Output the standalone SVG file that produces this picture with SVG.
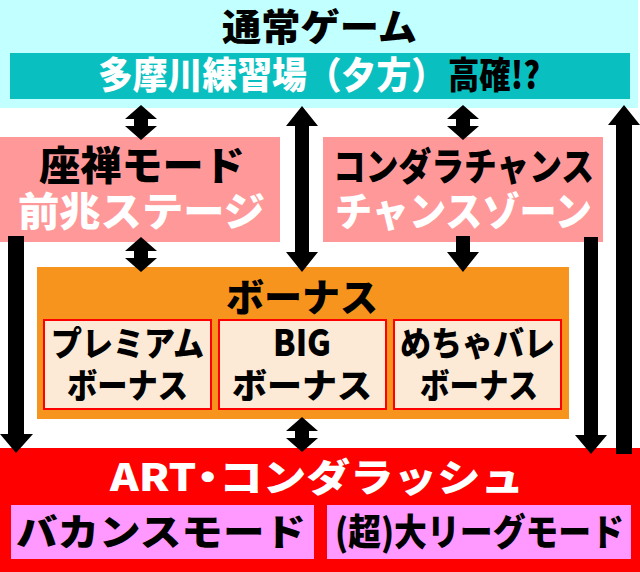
<svg xmlns="http://www.w3.org/2000/svg" width="640" height="572" viewBox="0 0 640 572">
<style>
text{font-family:"Noto Sans CJK JP","Noto Sans",sans-serif;font-weight:900}
.k{fill:#000}
.w{fill:#fff}
.inner{fill:#FDEAD6;stroke:#FF0000;stroke-width:2}
.mode{fill:#FF99FF}
.pink{fill:#FF9999}
.arr{fill:#000}
</style>
<rect x="0" y="0" width="640" height="572" fill="#fff"/>
<g id="normal">
<rect x="0" y="0" width="638" height="108" fill="#C2FFFF"/>
<text class="k" x="222" y="41" font-size="37" textLength="195" lengthAdjust="spacingAndGlyphs">通常ゲーム</text>
<rect x="10" y="53" width="620" height="46" fill="#0ABFBF"/>
<text class="w" x="98" y="89" font-size="37" textLength="348" lengthAdjust="spacingAndGlyphs">多摩川練習場（夕方）</text>
<text class="k" x="448" y="89" font-size="37" textLength="92" lengthAdjust="spacingAndGlyphs">高確!?</text>
</g>
<g id="zazen">
<rect class="pink" x="0" y="137" width="280" height="105"/>
<text class="k" x="39" y="180" font-size="40" textLength="206" lengthAdjust="spacingAndGlyphs">座禅モード</text>
<text class="w" x="18" y="226" font-size="40" textLength="247" lengthAdjust="spacingAndGlyphs">前兆ステージ</text>
</g>
<g id="chance">
<rect class="pink" x="323" y="137" width="280" height="105"/>
<text class="k" x="333" y="180" font-size="38" textLength="261" lengthAdjust="spacingAndGlyphs">コンダラチャンス</text>
<text class="w" x="335" y="226" font-size="40" textLength="257" lengthAdjust="spacingAndGlyphs">チャンスゾーン</text>
</g>
<g id="bonus">
<rect x="37" y="267" width="532" height="152" fill="#F7941D"/>
<text class="k" x="226" y="311" font-size="38" textLength="152" lengthAdjust="spacingAndGlyphs">ボーナス</text>
<g id="premium">
<rect class="inner" x="44" y="320" width="167" height="89"/>
<text class="k" x="51" y="356" font-size="34" textLength="153" lengthAdjust="spacingAndGlyphs">プレミアム</text>
<text class="k" x="67" y="398" font-size="34" textLength="121" lengthAdjust="spacingAndGlyphs">ボーナス</text>
</g>
<g id="big">
<rect class="inner" x="219" y="320" width="167" height="89"/>
<text class="k" x="273" y="356" font-size="36" textLength="58" lengthAdjust="spacingAndGlyphs">BIG</text>
<text class="k" x="232" y="398" font-size="34" textLength="140" lengthAdjust="spacingAndGlyphs">ボーナス</text>
</g>
<g id="mecha">
<rect class="inner" x="394" y="320" width="167" height="89"/>
<text class="k" x="400" y="356" font-size="34" textLength="155" lengthAdjust="spacingAndGlyphs">めちゃバレ</text>
<text class="k" x="420" y="398" font-size="34" textLength="118" lengthAdjust="spacingAndGlyphs">ボーナス</text>
</g>
</g>
<g id="art">
<rect x="0" y="448" width="640" height="124" fill="#FF0000"/>
<text class="w" x="110" y="491" font-size="38" textLength="414" lengthAdjust="spacingAndGlyphs">ART<tspan dx="-9">・</tspan><tspan dx="-9">コンダラッシュ</tspan></text>
<g id="vacance">
<rect class="mode" x="11" y="505" width="303" height="54"/>
<text class="k" x="16" y="546" font-size="37" textLength="290" lengthAdjust="spacingAndGlyphs">バカンスモード</text>
</g>
<g id="league">
<rect class="mode" x="327" y="505" width="304" height="54"/>
<text class="k" x="335" y="546" font-size="37" textLength="289" lengthAdjust="spacingAndGlyphs">(超)大リーグモード</text>
</g>
</g>
<g id="connectors">
<polygon class="arr" points="141,105 157,119 148,119 148,126 157,126 141,140 125,126 134,126 134,119 125,119"/>
<polygon class="arr" points="463,105 479,119 470,119 470,126 479,126 463,140 447,126 456,126 456,119 447,119"/>
<polygon class="arr" points="302,106 318,126 309,126 309,252 318,252 302,272 286,252 295,252 295,126 286,126"/>
<polygon class="arr" points="624,105 640,125 632,125 632,454 616,454 616,125 608,125"/>
<polygon class="arr" points="141,237 157,251 148,251 148,258 157,258 141,272 125,258 134,258 134,251 125,251"/>
<polygon class="arr" points="456,236 470,236 470,252 479,252 463,272 447,252 456,252"/>
<polygon class="arr" points="8,236 24,236 24,434 33,434 16,453 0,434 8,434"/>
<polygon class="arr" points="584,237 598,237 598,435 607,435 591,454 575,435 584,435"/>
<polygon class="arr" points="302,417 318,431 309,431 309,438 318,438 302,452 286,438 295,438 295,431 286,431"/>
</g>
</svg>
